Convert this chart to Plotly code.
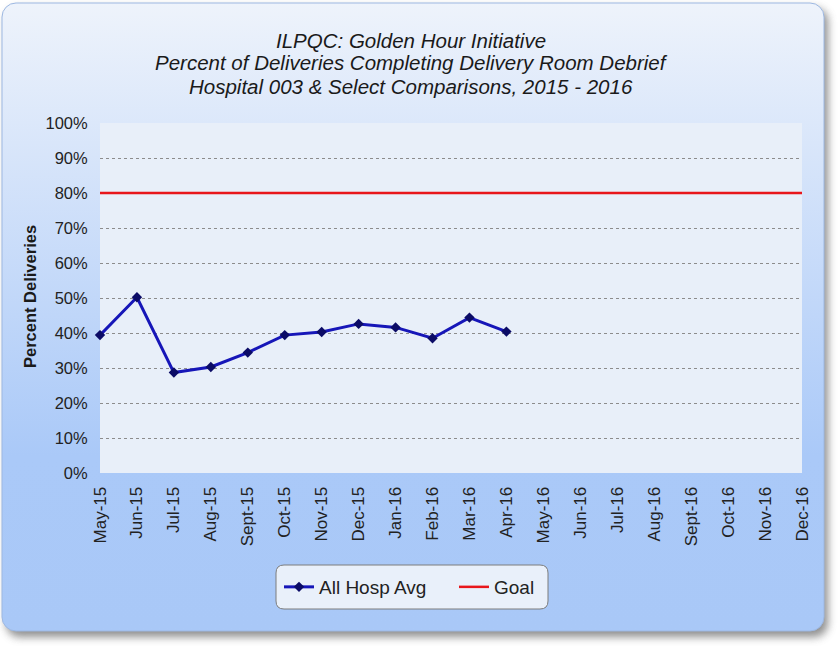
import base64
import plotly.graph_objects as go

# ---------------- data ----------------
months = ["May-15", "Jun-15", "Jul-15", "Aug-15", "Sept-15", "Oct-15", "Nov-15",
          "Dec-15", "Jan-16", "Feb-16", "Mar-16", "Apr-16", "May-16", "Jun-16",
          "Jul-16", "Aug-16", "Sept-16", "Oct-16", "Nov-16", "Dec-16"]
all_hosp_avg = [39.4, 50.2, 28.7, 30.3, 34.4, 39.4, 40.3, 42.6, 41.6, 38.5, 44.4, 40.4]
goal = [80] * len(months)
y_ticks = list(range(0, 101, 10))
title_lines = ["ILPQC: Golden Hour Initiative",
               "Percent of Deliveries Completing Delivery Room Debrief",
               "Hospital 003 & Select Comparisons, 2015 - 2016"]
y_title = "Percent Deliveries"

# ---------------- layout geometry (pixels) ----------------
W, H = 840, 646
L, R, T, B = 100, 38, 123, 173
PW, PH = W - L - R, H - T - B


def px2x(px):
    return (px - L) / PW


def py2y(py):
    return (H - B - py) / PH


FONT = "Liberation Sans, Arial, sans-serif"

# panel background (rounded, gradient, drop shadow)
svg = f"""<svg xmlns='http://www.w3.org/2000/svg' width='{W}' height='{H}' viewBox='0 0 {W} {H}'>
<defs>
<linearGradient id='g' x1='0' y1='0' x2='0' y2='1'>
<stop offset='0' stop-color='#eef3fb'/>
<stop offset='0.72' stop-color='#aac9f8'/>
<stop offset='1' stop-color='#a9c8f7'/>
</linearGradient>
<filter id='s' x='-5%' y='-5%' width='115%' height='115%'>
<feGaussianBlur stdDeviation='4'/>
</filter>
</defs>
<rect x='6' y='8' width='822' height='629' rx='14' ry='14' fill='#6a6a6a' opacity='0.75' filter='url(#s)'/>
<rect x='2' y='3' width='822' height='628' rx='14' ry='14' fill='url(#g)' stroke='#9db8e2' stroke-width='1'/>
</svg>"""
svg_uri = "data:image/svg+xml;base64," + base64.b64encode(svg.encode()).decode()

fig = go.Figure()

fig.add_trace(go.Scatter(
    x=months[:len(all_hosp_avg)], y=all_hosp_avg, name="All Hosp Avg",
    mode="lines+markers",
    line=dict(color="#1616b8", width=3),
    marker=dict(symbol="diamond", size=8, color="#0b0b66",
                line=dict(color="#0b0b66", width=0)),
    cliponaxis=False,
))
fig.add_trace(go.Scatter(
    x=months, y=goal, name="Goal", mode="lines",
    line=dict(color="#e8161b", width=2.5),
    cliponaxis=False,
))


def rounded_rect(x0, y0, x1, y1, r):
    X = px2x
    Y = py2y
    return (f"M {X(x0 + r)},{Y(y0)} L {X(x1 - r)},{Y(y0)} "
            f"Q {X(x1)},{Y(y0)} {X(x1)},{Y(y0 + r)} L {X(x1)},{Y(y1 - r)} "
            f"Q {X(x1)},{Y(y1)} {X(x1 - r)},{Y(y1)} L {X(x0 + r)},{Y(y1)} "
            f"Q {X(x0)},{Y(y1)} {X(x0)},{Y(y1 - r)} L {X(x0)},{Y(y0 + r)} "
            f"Q {X(x0)},{Y(y0)} {X(x0 + r)},{Y(y0)} Z")


annotations = []
for txt, cy in zip(title_lines, [40, 63, 86]):
    annotations.append(dict(
        text=txt, xref="paper", yref="paper", x=px2x(411), y=py2y(cy),
        xanchor="center", yanchor="middle", showarrow=False,
        font=dict(family=FONT, size=20.5, color="#1a1a1a", style="italic"),
    ))
annotations.append(dict(
    text=f"<b>{y_title}</b>", xref="paper", yref="paper", x=px2x(30), y=py2y(297),
    xanchor="center", yanchor="middle", showarrow=False, textangle=-90,
    font=dict(family=FONT, size=16.5, color="#1a1a1a"),
))

fig.update_layout(
    width=W, height=H,
    margin=dict(l=L, r=R, t=T, b=B, pad=0),
    paper_bgcolor="white",
    plot_bgcolor="#e8eff9",
    font=dict(family=FONT, size=16, color="#222222"),
    showlegend=True,
    legend=dict(
        orientation="h", x=px2x(279), y=py2y(587), xanchor="left", yanchor="middle",
        bgcolor="rgba(0,0,0,0)", borderwidth=0,
        font=dict(family=FONT, size=19, color="#222222"),
        itemwidth=30, entrywidth=130, entrywidthmode="pixels",
    ),
    images=[dict(
        source=svg_uri, xref="paper", yref="paper",
        x=px2x(0), y=py2y(0), sizex=W / PW, sizey=H / PH,
        xanchor="left", yanchor="top", sizing="stretch", layer="below",
    )],
    shapes=[
        dict(type="rect", xref="paper", yref="paper", x0=0, x1=1, y0=0, y1=1,
             fillcolor="#e8eff9", line=dict(width=0), layer="below"),
        dict(type="path", xref="paper", yref="paper",
             path=rounded_rect(276, 565, 548, 609, 8),
             fillcolor="#e9f0fa", line=dict(color="#7d7d7d", width=1), layer="below"),
    ],
    annotations=annotations,
    xaxis=dict(
        type="category", categoryorder="array", categoryarray=months,
        tickvals=months, ticktext=months,
        range=[0, len(months) - 1],
        showgrid=False, zeroline=False, showline=False,
        tickangle=-90, ticks="outside", ticklen=6, tickcolor="rgba(0,0,0,0)",
        tickfont=dict(family=FONT, size=17, color="#222222"),
    ),
    yaxis=dict(
        range=[0, 100], tickvals=y_ticks, ticktext=[f"{v}%" for v in y_ticks],
        showgrid=True, gridcolor="#8c8c8c", gridwidth=1, griddash="3px,3px",
        zeroline=False, showline=False,
        ticks="outside", ticklen=8, tickcolor="rgba(0,0,0,0)",
        tickfont=dict(family=FONT, size=16.5, color="#222222"),
    ),
)

fig.write_html("out.html", config={"displayModeBar": False},
               post_script="document.body.style.margin='0px';")
